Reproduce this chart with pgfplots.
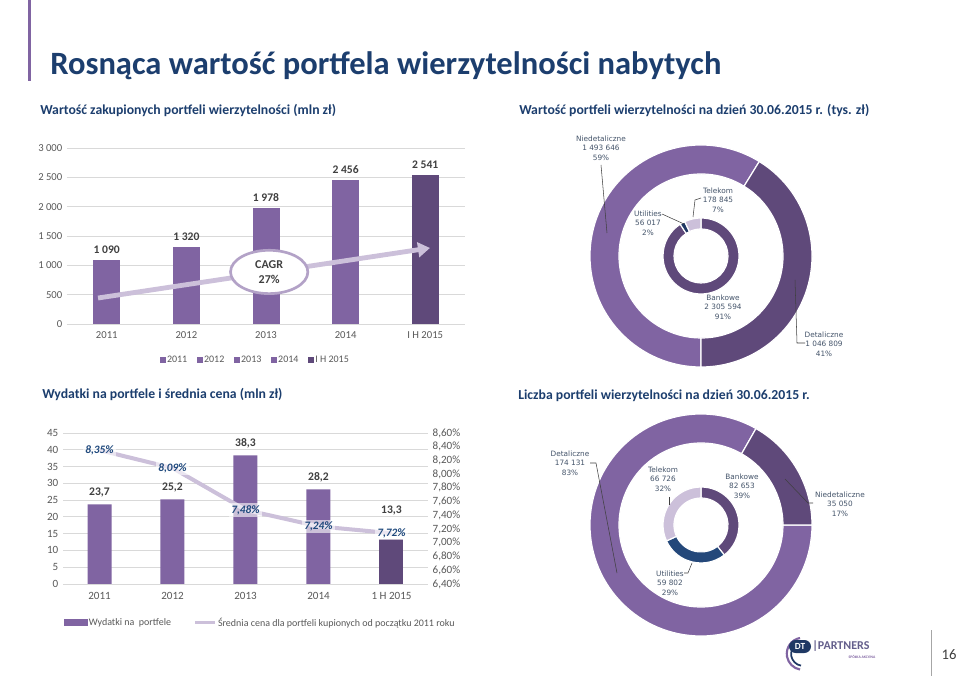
\documentclass[border=0pt]{standalone}
\usepackage{pgfplots}
\pgfplotsset{compat=1.18}
\usepackage{fontspec}
\setmainfont{Carlito}
\newfontfamily\dlfam{DejaVu Sans}
\usetikzlibrary{arrows.meta,shapes.geometric}

\definecolor{purA}{RGB}{128,100,162}
\definecolor{purB}{RGB}{95,73,122}
\definecolor{lav}{RGB}{204,192,218}
\definecolor{lavD}{RGB}{179,162,199}
\definecolor{navyI}{RGB}{31,56,100}
\definecolor{navyU}{RGB}{36,72,122}
\definecolor{titleblue}{RGB}{28,62,110}
\definecolor{gridc}{RGB}{217,217,217}
\definecolor{tickc}{RGB}{89,89,89}
\definecolor{lblc}{RGB}{64,64,64}
\definecolor{donutc}{RGB}{68,84,106}
\definecolor{pctc}{RGB}{31,73,125}

% donut angles computed from the values
% top donut: outer Niedetaliczne 1493646, Detaliczne 1046809
\edef\dAa{\fpeval{round(270-360*1493646/(1493646+1046809),3)}}
% top donut inner: Bankowe 2305594, Utilities 56017, Telekom 178845
\edef\dBa{\fpeval{round(90-360*2305594/(2305594+56017+178845),3)}}
\edef\dBb{\fpeval{round(\dBa-360*56017/(2305594+56017+178845),3)}}
% bottom donut outer: Detaliczne 174131, Niedetaliczne 35050
\edef\dCa{\fpeval{round(-360*174131/(174131+35050),3)}}
% bottom donut inner: Bankowe 82653, Utilities 59802, Telekom 66726
\edef\dDa{\fpeval{round(90-360*82653/(82653+59802+66726),3)}}
\edef\dDb{\fpeval{round(\dDa-360*59802/(82653+59802+66726),3)}}

% ring sector: cx cy rin rout a1 a2 colour
\newcommand{\ringsector}[7]{%
  \filldraw[fill=#7, draw=white, line width=0.9pt]
   (axis cs:{#1+#4*cos(#5)},{#2+#4*sin(#5)})
   arc[start angle=#5, end angle=#6, radius=#4*0.75pt]
   -- (axis cs:{#1+#3*cos(#6)},{#2+#3*sin(#6)})
   arc[start angle=#6, end angle=#5, radius=#3*0.75pt] -- cycle;}

\newcommand{\dl}{\dlfam\fontsize{5.5}{7.2}\selectfont}
\newcommand{\subt}{\bfseries\fontsize{10.3}{12}\selectfont}

\begin{document}
\begin{tikzpicture}
\path[use as bounding box, fill=white] (0pt,0pt) rectangle (720pt,511.5pt);

\begin{scope}[x=0.75pt,y=0.75pt]
% header
\fill[purA] (28,601) rectangle (31,682);
\node[anchor=base west, inner sep=0, font=\bfseries\fontsize{24.4}{28}\selectfont, text=titleblue]
  at (50,607) {Rosnąca wartość portfela wierzytelności nabytych};
\node[anchor=base west, inner sep=0, font=\subt, text=titleblue]
  at (40,567) {Wartość zakupionych portfeli wierzytelności (mln zł)};
\node[anchor=base west, inner sep=0, font=\subt, text=titleblue]
  at (519,567) {Wartość portfeli wierzytelności na dzień 30.06.2015 r. (tys. zł)};
\node[anchor=base west, inner sep=0, font=\subt, text=titleblue]
  at (42,283) {Wydatki na portfele i średnia cena (mln zł)};
\node[anchor=base west, inner sep=0, font=\subt, text=titleblue]
  at (518,282) {Liczba portfeli wierzytelności na dzień 30.06.2015 r.};

% footer logo and page number
\draw[purA, line width=1.6pt] (800,44) arc[start angle=100, end angle=260, radius=16];
\draw[navyI, line width=1.3pt] (801,40) arc[start angle=100, end angle=260, radius=12];
\fill[navyI, rounded corners=5pt] (789,29) rectangle (811,42);
\node[font=\bfseries\fontsize{7}{8}\selectfont, text=white, inner sep=0] at (800,35.5) {DT};
\node[anchor=west, inner sep=0, font=\bfseries\fontsize{9}{10}\selectfont, text={rgb,255:red,100;green,95;blue,140}]
  at (812,36) {|PARTNERS};
\node[inner sep=0, font=\bfseries\fontsize{2.8}{3}\selectfont, text=purA] at (862,25) {SPÓŁKA AKCYJNA};
\draw[black!35, line width=0.7pt] (931,52) -- (931,6);
\node[font=\fontsize{11}{12}\selectfont, text=lblc] at (949,27) {16};
\end{scope}

% ---------- chart 1 ----------
\begin{axis}[at={(50.25pt,268.5pt)}, anchor=south west, scale only axis,
  width=298.5pt, height=132pt,
  xmin=-0.5, xmax=4.5, ymin=0, ymax=3000,
  ytick={0,500,1000,1500,2000,2500,3000},
  yticklabels={0,500,1 000,1 500,2 000,2 500,3 000},
  xtick={0,1,2,3,4}, xticklabels={2011,2012,2013,2014,I H 2015},
  ymajorgrids, grid style={gridc, line width=0.6pt},
  axis line style={draw=none}, major tick length=0pt,
  tick label style={font=\fontsize{8}{9}\selectfont, text=tickc},
  xticklabel style={yshift=-2pt},
  ybar, bar width=20.25pt, bar shift=0pt,
  /pgf/number format/assume math mode=true,
  nodes near coords={\pgfmathprintnumber[1000 sep={\ }]{\pgfplotspointmeta}},
  every node near coord/.append style={font=\bfseries\fontsize{8.7}{10}\selectfont, text=lblc, yshift=1pt},
  legend style={at={(0.472,-0.205)}, anchor=center, legend columns=5, draw=none, fill=none,
    font=\fontsize{7.5}{8}\selectfont, text=tickc,
    /tikz/every even column/.append style={column sep=6pt}, nodes={inner sep=1pt}},
  legend image code/.code={\fill[#1] (0pt,-2.3pt) rectangle (4.6pt,2.3pt);},
  clip=false]
\addplot[fill=purA, draw=none] coordinates {(0,1090)};
\addplot[fill=purA, draw=none] coordinates {(1,1320)};
\addplot[fill=purA, draw=none] coordinates {(2,1978)};
\addplot[fill=purA, draw=none] coordinates {(3,2456)};
\addplot[fill=purB, draw=none] coordinates {(4,2541)};
\legend{2011,2012,2013,2014,I H 2015}
\draw[lav, line width=3.6pt, -{Triangle[length=9pt,width=11pt]}]
  (axis cs:-0.11,443) -- (axis cs:4.06,1296);
\node[ellipse, draw=lavD, line width=2pt, fill=white, minimum width=58pt, minimum height=32.5pt,
  align=center, inner sep=0pt, font=\bfseries\fontsize{9}{11}\selectfont, text=lblc]
  at (axis cs:2.04,887) {CAGR\\27\%};
\end{axis}

% ---------- chart 2 ----------
\begin{axis}[at={(47.25pt,73.5pt)}, anchor=south west, scale only axis,
  width=273.75pt, height=113.25pt,
  xmin=-0.5, xmax=4.5, ymin=0, ymax=45,
  ytick={0,5,10,15,20,25,30,35,40,45},
  xtick={0,1,2,3,4}, xticklabels={2011,2012,2013,2014,1 H 2015},
  ymajorgrids, grid style={gridc, line width=0.6pt},
  axis line style={draw=none}, major tick length=0pt,
  tick label style={font=\fontsize{8.3}{9}\selectfont, text=tickc},
  xticklabel style={yshift=-3pt},
  ybar, bar width=18pt, bar shift=0pt,
  /pgf/number format/assume math mode=true,
  nodes near coords={\pgfmathprintnumber[fixed,precision=1,use comma]{\pgfplotspointmeta}},
  every node near coord/.append style={font=\bfseries\fontsize{8.7}{10}\selectfont, text=lblc, yshift=2pt},
  clip=false]
\addplot[fill=purA, draw=none] coordinates {(0,23.7) (1,25.2) (2,38.3) (3,28.2)};
\addplot[fill=purB, draw=none, every node near coord/.append style={yshift=13pt}] coordinates {(4,13.3)};
\end{axis}
\begin{axis}[at={(47.25pt,73.5pt)}, anchor=south west, scale only axis,
  width=273.75pt, height=113.25pt,
  xmin=-0.5, xmax=4.5, ymin=6.4, ymax=8.6,
  axis x line=none, axis y line*=right, y axis line style={draw=none},
  xtick=\empty,
  ytick={6.4,6.6,6.8,7.0,7.2,7.4,7.6,7.8,8.0,8.2,8.4,8.6},
  major tick length=0pt,
  /pgf/number format/assume math mode=true,
  yticklabel={\pgfmathprintnumber[fixed,fixed zerofill,precision=2,use comma]{\tick}\%},
  tick label style={font=\fontsize{8.3}{9}\selectfont, text=tickc},
  legend style={at={(-0.01,-0.258)}, anchor=west, legend columns=2, draw=none, fill=none,
    font=\fontsize{7.5}{8}\selectfont, text=tickc,
    /tikz/every even column/.append style={column sep=16pt}, nodes={inner sep=1pt}},
  clip=false]
\addlegendimage{fill=purA, draw=none, legend image code/.code={\fill[purA] (0pt,-2.6pt) rectangle (18pt,2.6pt);}}
\addlegendentry{Wydatki na\ \ portfele}
\addplot[lav, line width=3pt, point meta=explicit,
  nodes near coords={\pgfmathprintnumber[fixed,fixed zerofill,precision=2,use comma]{\pgfplotspointmeta}\%},
  every node near coord/.append style={anchor=center, fill=white, fill opacity=0.6, text opacity=1,
    inner sep=1.5pt, font=\bfseries\itshape\fontsize{8.5}{10}\selectfont, text=pctc},
  legend image code/.code={\draw[lav, line width=2.2pt] (0pt,0pt) -- (15pt,0pt);}]
  coordinates {(0,8.35) [8.35] (1,8.09) [8.09] (2,7.48) [7.48] (3,7.24) [7.24] (4,7.14) [7.72]};
\addlegendentry{Średnia cena dla portfeli kupionych od początku 2011 roku}
\end{axis}

% ---------- donuts ----------
\begin{axis}[at={(375pt,0pt)}, anchor=south west, scale only axis,
  width=345pt, height=511.5pt, xmin=500, xmax=960, ymin=0, ymax=682,
  hide axis, clip=false]
\addplot[draw=none] coordinates {(500,0)};
% top donut, outer
\ringsector{701}{426}{82}{111}{270}{\dAa}{purA}
\ringsector{701}{426}{82}{111}{\dAa}{-90}{purB}
% top donut, inner
\ringsector{701}{426}{27}{38}{90}{\dBa}{purB}
\ringsector{701}{426}{27}{38}{\dBa}{\dBb}{navyI}
\ringsector{701}{426}{27}{38}{\dBb}{-270}{lav}
% bottom donut, outer
\ringsector{701}{157}{82}{111}{0}{\dCa}{purA}
\ringsector{701}{157}{82}{111}{\dCa}{-360}{purB}
% bottom donut, inner
\ringsector{701}{157}{27}{38}{90}{\dDa}{purB}
\ringsector{701}{157}{27}{38}{\dDa}{\dDb}{navyU}
\ringsector{701}{157}{27}{38}{\dDb}{-270}{lav}

% labels top donut
\draw[black!75, line width=0.4pt] (axis cs:601,517) -- (axis cs:607,449);
\node[align=center, font=\dl, text=donutc] at (axis cs:601,534) {Niedetaliczne\\1 493 646\\59\%};
\draw[black!75, line width=0.4pt] (axis cs:701,484) -- (axis cs:695,482) -- (axis cs:693,465);
\node[align=center, font=\dl, text=donutc] at (axis cs:718,482) {Telekom\\178 845\\7\%};
\draw[black!75, line width=0.4pt] (axis cs:662,468) -- (axis cs:684,458);
\node[align=center, font=\dl, text=donutc] at (axis cs:648,459) {Utilities\\56 017\\2\%};
\node[align=center, font=\dl, text=donutc] at (axis cs:723,375) {Bankowe\\2 305 594\\91\%};
\draw[black!75, line width=0.4pt] (axis cs:795,402) -- (axis cs:797,339) -- (axis cs:805,339);
\node[align=center, font=\dl, text=donutc] at (axis cs:824,338) {Detaliczne\\1 046 809\\41\%};

% labels bottom donut
\draw[black!75, line width=0.4pt] (axis cs:590,219) -- (axis cs:596,219) -- (axis cs:617,109);
\node[align=center, font=\dl, text=donutc] at (axis cs:570,219) {Detaliczne\\174 131\\83\%};
\draw[black!75, line width=0.4pt] (axis cs:669,185) -- (axis cs:669,177);
\node[align=center, font=\dl, text=donutc] at (axis cs:663,203) {Telekom\\66 726\\32\%};
\node[align=center, font=\dl, text=donutc] at (axis cs:742,196) {Bankowe\\82 653\\39\%};
\draw[black!75, line width=0.4pt] (axis cs:813,179) -- (axis cs:808,179) -- (axis cs:785,203);
\node[align=center, font=\dl, text=donutc] at (axis cs:840,178) {Niedetaliczne\\35 050\\17\%};
\draw[black!75, line width=0.4pt] (axis cs:684,109) -- (axis cs:688,109) -- (axis cs:692,119);
\node[align=center, font=\dl, text=donutc] at (axis cs:670,99) {Utilities\\59 802\\29\%};
\end{axis}
\end{tikzpicture}
\end{document}
